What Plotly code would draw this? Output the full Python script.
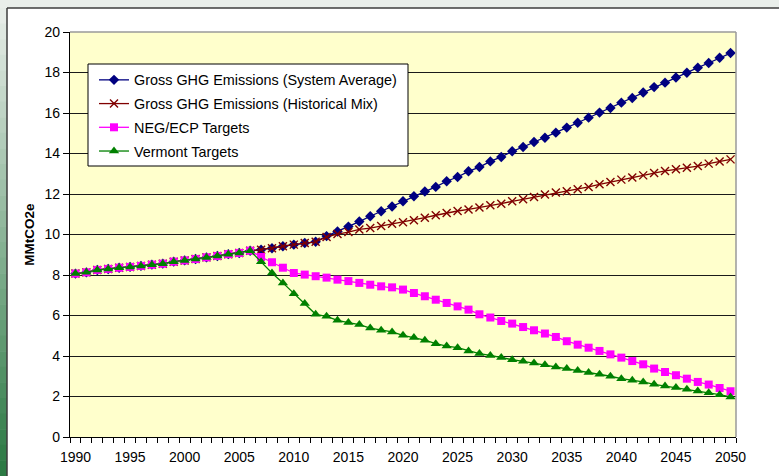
import plotly.graph_objects as go

years = list(range(1990, 2051))

common_1990_2006 = [8.07, 8.13, 8.25, 8.30, 8.36, 8.40, 8.45, 8.51, 8.56, 8.66,
                    8.72, 8.79, 8.87, 8.94, 9.03, 9.09, 9.20]

system_avg_2007_2050 = [9.25, 9.32, 9.42, 9.50, 9.58, 9.64, 9.92, 10.15, 10.39, 10.64,
                        10.90, 11.15, 11.38, 11.64, 11.89, 12.12, 12.35, 12.63, 12.84, 13.12,
                        13.33, 13.61, 13.83, 14.11, 14.32, 14.57, 14.78, 15.03, 15.28, 15.52,
                        15.77, 16.02, 16.25, 16.51, 16.74, 17.01, 17.28, 17.50, 17.75, 17.99,
                        18.24, 18.47, 18.73, 18.96]

hist_mix_2007_2050 = [9.25, 9.32, 9.42, 9.50, 9.58, 9.64, 9.88, 10.02, 10.12, 10.25,
                      10.32, 10.42, 10.53, 10.60, 10.70, 10.83, 10.95, 11.06, 11.16, 11.24,
                      11.33, 11.44, 11.52, 11.64, 11.74, 11.85, 11.97, 12.07, 12.14, 12.24,
                      12.35, 12.48, 12.59, 12.71, 12.81, 12.92, 13.04, 13.14, 13.22, 13.30,
                      13.38, 13.50, 13.61, 13.71]

neg_ecp_2007_2050 = [8.89, 8.63, 8.36, 8.10, 8.02, 7.94, 7.87, 7.77, 7.70, 7.61,
                     7.52, 7.44, 7.39, 7.28, 7.11, 6.95, 6.78, 6.62, 6.45, 6.29,
                     6.06, 5.90, 5.73, 5.60, 5.43, 5.27, 5.11, 4.94, 4.73, 4.56,
                     4.41, 4.25, 4.08, 3.92, 3.75, 3.59, 3.38, 3.21, 3.05, 2.88,
                     2.72, 2.59, 2.42, 2.26]

vermont_2007_2050 = [8.65, 8.10, 7.61, 7.08, 6.59, 6.06, 5.96, 5.76, 5.65, 5.55,
                     5.38, 5.27, 5.19, 5.02, 4.91, 4.78, 4.61, 4.49, 4.41, 4.25,
                     4.12, 4.03, 3.92, 3.82, 3.74, 3.65, 3.57, 3.46, 3.38, 3.29,
                     3.18, 3.10, 3.00, 2.88, 2.80, 2.72, 2.60, 2.52, 2.44, 2.36,
                     2.27, 2.19, 2.09, 1.98]

series_names = ["Gross GHG Emissions (System Average)",
                "Gross GHG Emissions (Historical Mix)",
                "NEG/ECP Targets",
                "Vermont Targets"]
series_values = [common_1990_2006 + system_avg_2007_2050,
                 common_1990_2006 + hist_mix_2007_2050,
                 common_1990_2006 + neg_ecp_2007_2050,
                 common_1990_2006 + vermont_2007_2050]

x_tick_labels = [str(y) for y in range(1990, 2051, 5)]
y_title = "MMtCO2e"

# ---- styling ----
W, H = 779, 476
ML, MR, MT, MB = 70, 43, 32, 39
PW, PH = W - ML - MR, H - MT - MB

def px2x(px):
    return (px - ML) / PW

def py2y(py):
    return (H - MB - py) / PH

colors = ["#000080", "#800000", "#FF00FF", "#008000"]
symbols = ["diamond", "x-thin", "square", "triangle-up"]
sizes = [8, 8, 8, 9]
FONT = "Arial, Liberation Sans, sans-serif"

fig = go.Figure()
for i, (name, vals) in enumerate(zip(series_names, series_values)):
    marker = dict(symbol=symbols[i], size=sizes[i], color=colors[i])
    if symbols[i] == "x-thin":
        marker["line"] = dict(color=colors[i], width=1.4)
    else:
        marker["line"] = dict(width=0)
    fig.add_trace(go.Scatter(
        x=years, y=vals, name=name, mode="lines+markers",
        line=dict(color=colors[i], width=1.3),
        marker=marker, legendgroup=f"g{i}",
    ))

# outer frame shapes
shapes = []
shapes.append(dict(type="rect", xref="paper", yref="paper",
                   x0=px2x(-2), x1=px2x(W + 2), y0=py2y(8), y1=py2y(-2),
                   fillcolor="#e9eeea", line=dict(width=0), layer="below"))
n = 30
top_c = (0xe6, 0xec, 0xe7)
bot_c = (0x2c, 0x7a, 0x44)
for k in range(n):
    t = k / (n - 1)
    c = tuple(int(top_c[j] + (bot_c[j] - top_c[j]) * t) for j in range(3))
    y0p = 8 + (H - 8) * k / n
    y1p = 8 + (H - 8) * (k + 1) / n
    shapes.append(dict(type="rect", xref="paper", yref="paper",
                       x0=px2x(-2), x1=px2x(7), y0=py2y(y1p + 0.5), y1=py2y(y0p),
                       fillcolor="rgb(%d,%d,%d)" % c, line=dict(width=0), layer="below"))
shapes.append(dict(type="line", xref="paper", yref="paper",
                   x0=px2x(7), x1=px2x(W + 2), y0=py2y(8), y1=py2y(8),
                   line=dict(color="#3c3c3c", width=1.5)))
shapes.append(dict(type="line", xref="paper", yref="paper",
                   x0=px2x(7), x1=px2x(7), y0=py2y(8), y1=py2y(H + 2),
                   line=dict(color="#3c3c3c", width=1.5)))
shapes.append(dict(type="line", xref="paper", yref="paper",
                   x0=0, x1=1, y0=1, y1=1, line=dict(color="#9a9a9a", width=1.5)))
shapes.append(dict(type="line", xref="paper", yref="paper",
                   x0=1, x1=1, y0=0, y1=1, line=dict(color="#9a9a9a", width=1.5)))
# legend box (drawn as shape so its padding matches the reference)
shapes.append(dict(type="rect", xref="paper", yref="paper", layer="above",
                   x0=px2x(88), x1=px2x(408), y0=py2y(166), y1=py2y(64),
                   fillcolor="white", line=dict(color="black", width=1)))

fig.update_layout(
    width=W, height=H,
    margin=dict(l=ML, r=MR, t=MT, b=MB, pad=0, autoexpand=False),
    paper_bgcolor="white",
    plot_bgcolor="#FFFFCC",
    font=dict(family=FONT, size=14, color="black"),
    showlegend=True,
    legend=dict(
        x=px2x(94), y=py2y(64), xanchor="left", yanchor="top",
        bgcolor="rgba(0,0,0,0)", borderwidth=0,
        font=dict(family=FONT, size=14.4, color="black"),
        tracegroupgap=2, itemwidth=30,
    ),
    shapes=shapes,
    xaxis=dict(
        automargin=False,
        range=[1989.5, 2050.5],
        tickmode="array",
        tickvals=[int(t) for t in x_tick_labels],
        ticktext=x_tick_labels,
        ticks="outside", ticklen=7, tickcolor="rgba(0,0,0,0)",
        showgrid=False, zeroline=False,
        showline=True, linecolor="black", linewidth=1.2,
        minor=dict(ticks="outside", tick0=1989.5, dtick=1, ticklen=5,
                   tickcolor="black", tickwidth=1, showgrid=False),
        tickfont=dict(family=FONT, size=14, color="black"),
        fixedrange=True,
    ),
    yaxis=dict(
        automargin=False,
        range=[0, 20], dtick=2, tick0=0,
        ticks="outside", ticklen=6, tickcolor="black", tickwidth=1,
        showgrid=True, gridcolor="#1a1a1a", gridwidth=1,
        zeroline=False,
        showline=True, linecolor="black", linewidth=1.2,
        tickfont=dict(family=FONT, size=14, color="black"),
        title=dict(text="<b>" + y_title + "</b>", font=dict(family=FONT, size=13.5, color="black"),
                   standoff=6),
        fixedrange=True,
    ),
)

fig.write_html("out.html",
               config={"displayModeBar": False},
               post_script="document.body.style.margin='0';document.body.style.overflow='hidden';")
